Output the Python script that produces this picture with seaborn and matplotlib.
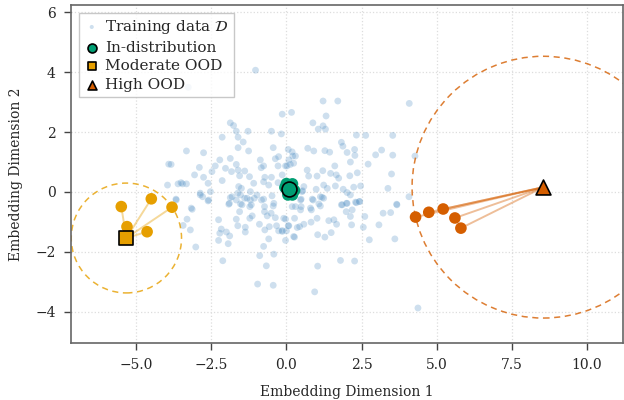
import numpy as np
import pandas as pd
import matplotlib
matplotlib.use("Agg")
import matplotlib.pyplot as plt
from matplotlib.patches import Circle
import seaborn as sns

# === Data ===
train_x = [
    -1.03, -0.14, 0.17, -1.87, -1.76, -1.67, -1.28, -2.14, -1.61, -0.50, -0.17, -1.44,
    -3.33, -2.76, -1.61, -1.26, -0.44, 0.06, 0.19, 0.30, -0.26, -0.37, -2.22, -1.87,
    -3.92, -3.84, -2.90, -2.37, -2.03, -1.67, -1.61, -1.83, -0.87, -0.76, -0.84, -0.28,
    0.02, 0.24, -1.39, -1.23, -3.06, -2.76, -2.48, -1.56, -0.72, -0.50, -0.14, -3.61,
    -3.46, -2.61, -2.14, -1.59, -1.50, -1.09, -0.76, -0.59, -0.28, -2.87, -2.79, -2.59,
    -1.87, -1.53, -1.67, -1.20, -1.31, -0.98, -0.83, -1.17, -1.48, -1.92, -0.73, -0.48,
    -0.42, -3.17, -3.27,
    1.22, 1.71, 4.09, 1.32, 0.88, 1.06, 1.22, 1.30, 2.33, 2.64, 3.54, 1.83,
    1.88, 0.71, 0.91, 1.28, 1.44, 2.02, 2.27, 2.28, 3.17, 2.97, 3.54, 4.28,
    0.21, 0.08, -0.03, 0.13, 0.69, 0.74, 1.02, 1.21, 1.61, 2.13, 2.72, 1.47,
    1.66, 1.74, 2.11, 2.36, 3.50, 0.58, 0.54, 0.99, 1.24, 1.36, 1.63, 1.89,
    2.02, 2.13, 2.24, 2.47, 3.38, 4.08, 0.86, 1.13, 1.24, 1.08, 0.47, 1.83,
    2.02, 2.33, 2.44, 3.67, 0.49, 0.80,
    -2.53, -3.68, -3.14, -2.61, -3.31, -3.44, -3.20, -3.02, -2.26, -2.17, -2.26, -2.22,
    -2.00, -1.89, -1.94, -2.12, -1.90, -1.81, -1.62, -1.56, -1.67, -1.62, -1.37, -1.37,
    -1.53, -1.39, -1.20, -1.22, -1.14, -1.22, -1.07, -0.90, -0.76, -0.73, -0.64, -0.51,
    -0.37, -0.44, -0.72, -0.57, -0.33, -0.26, -0.14, -0.03, 0.00, 0.06, -0.59, -0.03,
    0.27, 0.27, 0.36, 0.19, -0.76, -0.89, -0.42, -0.67, -0.96, -0.44,
    0.52, 0.49, 0.30, -0.09, 0.08, 0.24, -0.14, 0.47, 0.44, 0.58, 0.83, 0.82,
    0.89, 1.02, 1.04, 1.13, 1.19, 1.28, 1.49, 1.41, 1.58, 1.67, 1.86, 1.99,
    2.13, 2.17, 2.19, 2.00, 2.30, 2.43, 2.56, 2.61, 2.76, 3.08, 3.22, 3.47,
    3.61, 3.68, 1.80, 2.27, 1.04, 0.94, 4.38,
    -3.96, -3.51, -3.33, -3.67, -2.87,
]
train_y = [
    4.07, 2.60, 2.66, 2.31, 2.22, 2.03, 2.03, 1.83, 1.83, 2.03, 1.94, 1.67,
    1.37, 1.31, 1.48, 1.37, 1.48, 1.42, 1.34, 1.20, 1.18, 1.11, 1.07, 1.12,
    0.93, 0.92, 0.82, 0.87, 0.79, 0.92, 0.73, 0.68, 1.07, 0.87, 0.81, 0.87,
    0.87, 0.96, 0.70, 0.51, 0.57, 0.49, 0.68, 0.54, 0.49, 0.49, 0.57, 0.27,
    0.27, 0.29, 0.38, 0.18, 0.12, 0.29, 0.34, 0.23, 0.31, -0.10, -0.16, -0.27,
    -0.19, -0.10, -0.27, 0.01, -0.21, -0.10, -0.27, -0.43, -0.43, -0.41, -0.49, -0.13,
    -0.38, -0.54, 3.50,
    3.04, 3.04, 2.96, 2.54, 2.31, 2.10, 2.21, 2.10, 1.90, 1.89, 1.89, 1.66,
    1.53, 1.46, 1.37, 1.38, 1.33, 1.32, 1.42, 1.22, 1.40, 1.24, 1.23, 1.20,
    1.20, 1.07, 0.87, 0.92, 0.73, 0.53, 0.53, 0.71, 0.87, 1.00, 0.93, 0.62,
    0.57, 0.46, 0.54, 0.64, 0.60, 0.18, 0.04, 0.09, 0.23, 0.12, 0.20, 0.09,
    -0.02, -0.10, 0.16, 0.20, 0.12, -0.16, -0.24, -0.16, -0.21, -0.40, -0.27, -0.43,
    -0.38, -0.36, -0.32, -0.41, -0.49, -0.54,
    0.01, -0.24, -0.58, -0.30, -0.91, -1.12, -1.27, -1.84, -0.93, -1.24, -1.62, -1.38,
    -1.34, -1.47, -1.73, -2.30, -0.38, -0.16, -0.04, -0.66, -0.91, -1.13, -1.18, -1.34,
    -0.40, -0.21, -0.27, -0.49, -0.80, -0.88, -0.21, -1.08, -0.24, -0.66, -0.80, -0.71,
    -0.86, -0.47, -1.27, -1.16, -1.13, -1.30, -1.32, -0.91, -1.30, -1.13, -1.57, -1.62,
    -1.51, -0.88, -1.19, -0.49, -1.82, -2.13, -2.08, -2.47, -3.08, -3.12,
    0.01, -0.24, -0.49, -0.88, -1.13, -1.49, -1.29, -0.60, -1.16, -1.08, -0.60, -1.01,
    -0.27, -0.88, -1.43, -0.47, -0.18, -1.51, -1.36, -0.96, -0.93, -1.08, -0.43, -0.66,
    -0.82, -1.10, -0.60, -0.38, -0.34, -0.32, -1.18, -0.82, -1.60, -1.10, -0.71, -0.69,
    -1.57, -0.43, -2.29, -2.31, -2.48, -3.34, -3.88,
    0.23, 0.31, 0.27, -0.27, -0.04,
]

# query points: in-distribution, moderate OOD, high OOD
query_names = ["In-distribution", "Moderate OOD", "High OOD"]
query_x = [0.08, -5.33, 8.56]
query_y = [0.10, -1.54, 0.16]

# nearest neighbours of each query
nbr_x = [
    [0.00, 0.20, 0.27, 0.05, 0.20, -0.05],
    [-5.50, -4.50, -3.81, -5.31, -4.64],
    [4.30, 4.74, 5.22, 5.61, 5.81],
]
nbr_y = [
    [0.28, 0.27, 0.05, -0.10, -0.10, 0.15],
    [-0.49, -0.23, -0.51, -1.16, -1.33],
    [-0.84, -0.68, -0.57, -0.87, -1.21],
]

colors = ["#009E73", "#E69F00", "#D55E00"]
markers = ["o", "s", "^"]

# === Style ===
sns.set_style("ticks")
plt.rcParams["font.family"] = ["DejaVu Serif"]
plt.rcParams["mathtext.fontset"] = "dejavuserif"

fig = plt.figure(figsize=(6.24, 4.0), dpi=100)
ax = fig.add_axes([0.114, 0.1425, 0.884, 0.845])

train = pd.DataFrame({"x": train_x, "y": train_y})
sns.scatterplot(data=train, x="x", y="y", ax=ax, color="#4A8CC2", alpha=0.27,
                s=24, edgecolor="none", label=r"Training data $\mathcal{D}$", zorder=2)

for i in range(3):
    qx, qy = query_x[i], query_y[i]
    nx, ny = np.array(nbr_x[i]), np.array(nbr_y[i])
    # lines to neighbours
    for a, b in zip(nx, ny):
        ax.plot([qx, a], [qy, b], color=colors[i], alpha=0.4, lw=1.4, zorder=3)
    # radius circle (not for in-distribution)
    if i > 0:
        r = np.max(np.hypot(nx - qx, ny - qy))
        ax.add_patch(Circle((qx, qy), r, fill=False, ls=(0, (4, 3)), lw=1.1,
                            edgecolor=colors[i], alpha=0.8, zorder=2))
    sns.scatterplot(x=nx, y=ny, ax=ax, color=colors[i], s=70, edgecolor="none",
                    zorder=4, legend=False)
    sns.scatterplot(x=[qx], y=[qy], ax=ax, color=colors[i], marker=markers[i], s=115,
                    edgecolor="black", linewidth=1.2, zorder=5, label=query_names[i])

ax.set_xlim(-7.17, 11.2)
ax.set_ylim(-5.05, 6.25)
ax.set_xticks([-5.0, -2.5, 0.0, 2.5, 5.0, 7.5, 10.0])
ax.set_yticks([-4, -2, 0, 2, 4, 6])
ax.grid(True, ls=":", color="#dddddd", lw=0.9)
ax.set_axisbelow(True)
ax.set_xlabel("Embedding Dimension 1", fontsize=10, labelpad=9)
ax.set_ylabel("Embedding Dimension 2", fontsize=10, labelpad=9)
ax.tick_params(labelsize=10, length=5, width=1, pad=6, color="#444444")
for sp in ax.spines.values():
    sp.set_color("#666666")
    sp.set_linewidth(1.2)

leg = ax.legend(loc="upper left", fontsize=11, frameon=True, fancybox=False,
                edgecolor="#bbbbbb", handletextpad=0.35, borderpad=0.35,
                labelspacing=0.3, handlelength=1.0, borderaxespad=0.5,
                markerscale=0.6)
leg.get_frame().set_linewidth(1.0)

plt.savefig("out.png", dpi=100)
